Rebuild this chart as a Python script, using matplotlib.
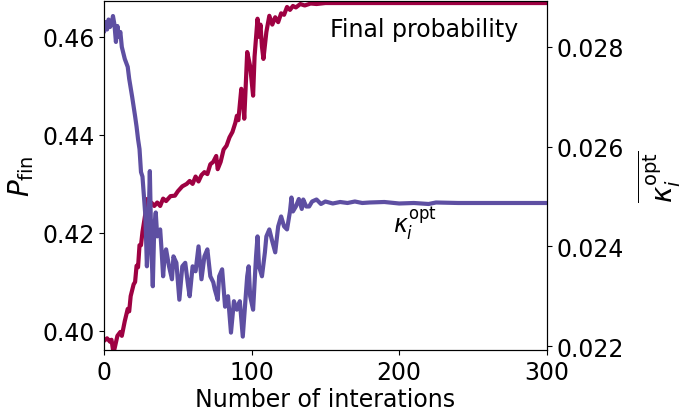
import matplotlib
matplotlib.use("Agg")
import matplotlib.pyplot as plt
import numpy as np

# final probability (left axis)
p_iter = [0, 2, 4, 5, 6, 7, 9, 11, 12, 14, 16, 17, 18, 20, 21, 22, 23, 24, 25, 26,
          28, 29, 30, 32, 34, 36, 38, 40, 42, 45, 48, 50, 53, 56, 58, 60, 62, 64, 66,
          68, 70, 72, 74, 76, 77, 79, 81, 83, 85, 87, 89, 90, 91, 93, 94, 95, 96, 97,
          99, 100, 101, 102, 104, 105, 106, 107, 108, 110, 112, 114, 116, 118, 120,
          122, 124, 126, 128, 130, 133, 136, 140, 144, 150, 300]
p_fin = [0.3980, 0.3985, 0.3978, 0.3982, 0.3962, 0.3963, 0.3990, 0.3998, 0.3990, 0.4020,
         0.4045, 0.4040, 0.4071, 0.4095, 0.4100, 0.4133, 0.4130, 0.4175, 0.4175, 0.4202,
         0.4240, 0.4269, 0.4250, 0.4262, 0.4255, 0.4262, 0.4255, 0.4270, 0.4265, 0.4275,
         0.4276, 0.4285, 0.4295, 0.4300, 0.4306, 0.4300, 0.4315, 0.4305, 0.4318, 0.4324,
         0.4320, 0.4340, 0.4345, 0.4357, 0.4330, 0.4345, 0.4370, 0.4378, 0.4395, 0.4406,
         0.4425, 0.4439, 0.4430, 0.4494, 0.4480, 0.4433, 0.4500, 0.4569, 0.4540, 0.4510,
         0.4480, 0.4560, 0.4637, 0.4600, 0.4625, 0.4580, 0.4555, 0.4610, 0.4643, 0.4625,
         0.4640, 0.4630, 0.4648, 0.4645, 0.4661, 0.4655, 0.4663, 0.4660, 0.4667, 0.4664,
         0.4668, 0.4667, 0.4669, 0.4669]

# mean optimal kappa (right axis)
k_iter = [0, 1, 2, 3, 4, 5, 6, 7, 8, 9, 10, 11, 12, 14, 16, 17, 19, 21, 22, 23, 24, 25,
          26, 27, 28, 29, 30, 31, 32, 33, 34, 35, 36, 38, 39, 40, 41, 42, 44, 46, 47, 49,
          51, 53, 55, 57, 58, 60, 62, 64, 66, 68, 70, 72, 74, 75, 77, 78, 80, 82, 84, 86,
          88, 90, 92, 94, 96, 97, 98, 99, 101, 103, 104, 105, 107, 109, 110, 112, 114,
          116, 118, 120, 122, 124, 126, 127, 128, 130, 132, 134, 135, 137, 139, 141, 144,
          147, 150, 155, 160, 165, 170, 175, 180, 190, 200, 210, 220, 225, 240, 300]
kappa = [0.02832, 0.02850, 0.02835, 0.02855, 0.02840, 0.02845, 0.02862, 0.02845, 0.02810,
         0.02842, 0.02820, 0.02830, 0.02800, 0.02776, 0.02760, 0.02736, 0.02700, 0.02661,
         0.02640, 0.02615, 0.02595, 0.02549, 0.02540, 0.02500, 0.02460, 0.02360, 0.02428,
         0.02551, 0.02400, 0.02320, 0.02440, 0.02468, 0.02420, 0.02434, 0.02390, 0.02340,
         0.02380, 0.02394, 0.02360, 0.02334, 0.02380, 0.02367, 0.02293, 0.02360, 0.02367,
         0.02320, 0.02300, 0.02360, 0.02350, 0.02400, 0.02334, 0.02380, 0.02394, 0.02340,
         0.02328, 0.02314, 0.02293, 0.02340, 0.02354, 0.02279, 0.02300, 0.02227, 0.02290,
         0.02273, 0.02290, 0.02219, 0.02300, 0.02340, 0.02360, 0.02300, 0.02273, 0.02380,
         0.02420, 0.02360, 0.02340, 0.02388, 0.02420, 0.02434, 0.02410, 0.02388, 0.02440,
         0.02460, 0.02440, 0.02434, 0.02470, 0.02498, 0.02470, 0.02480, 0.02495, 0.02475,
         0.02494, 0.02480, 0.02480, 0.02490, 0.02494, 0.02485, 0.02490, 0.02486, 0.02489,
         0.02487, 0.02490, 0.02487, 0.02488, 0.02489, 0.02486, 0.02487, 0.02485, 0.02488,
         0.02487, 0.02487]

fig = plt.figure(figsize=(6.85, 4.14), dpi=100)
ax = fig.add_axes([0.152, 0.152, 0.646, 0.843])
ax.plot(p_iter, p_fin, color='#9e0142', lw=3)
ax.set_xlim(0, 300)
ax.set_ylim(0.3961, 0.4673)
ax.set_yticks([0.40, 0.42, 0.44, 0.46])
ax.set_xticks([0, 100, 200, 300])
ax.tick_params(labelsize=17)
ax.set_xlabel('Number of interations', fontsize=17, labelpad=2)
ax.set_ylabel(r'$P_{\rm fin}$', fontsize=20, labelpad=4)
ax.text(217, 0.4616, 'Final probability', fontsize=17, ha='center', va='center')

ax2 = ax.twinx()
ax2.plot(k_iter, kappa, color='#5e4fa2', lw=3)
ax2.set_ylim(0.02192, 0.02892)
ax2.set_yticks([0.022, 0.024, 0.026, 0.028])
ax2.tick_params(labelsize=17)
ax2.set_ylabel(r'$\overline{\kappa_i^{\rm opt}}$', fontsize=20, labelpad=8)
ax2.text(211, 0.02448, r'$\kappa_i^{\rm opt}$', fontsize=17, ha='center', va='center')

plt.savefig('out.png', dpi=100)
